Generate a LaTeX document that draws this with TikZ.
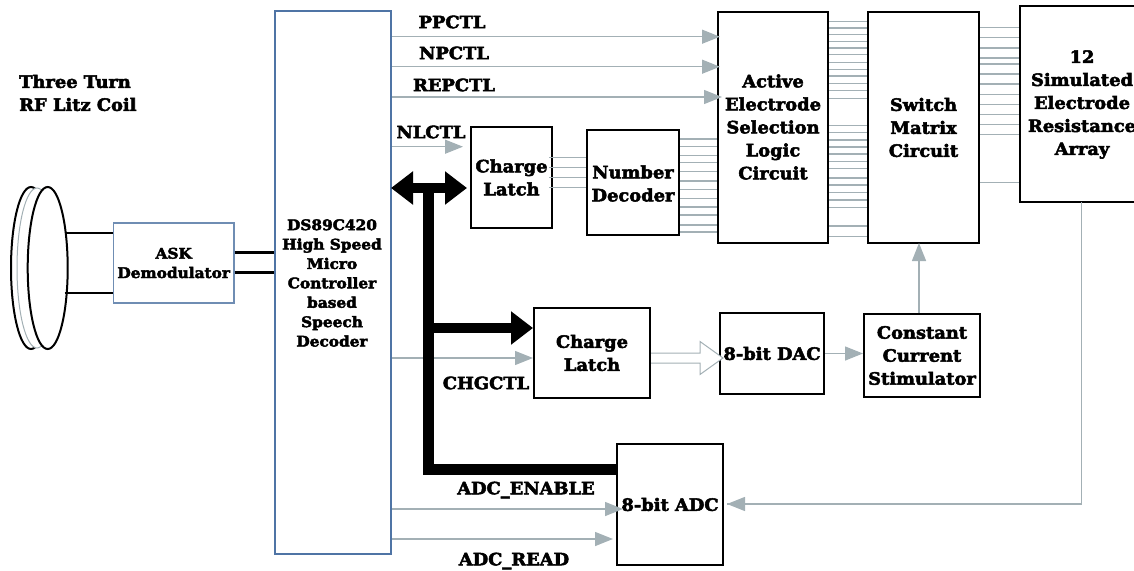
\documentclass[tikz,border=0pt]{standalone}
\usepackage{fontspec}
\setmainfont{DejaVu Serif}[BoldFeatures={FakeBold=3,FakeStretch=1.05}]
\usetikzlibrary{arrows.meta,shapes.geometric,calc}
\definecolor{wiregrey}{HTML}{A3B0B5}
\definecolor{boxblue}{HTML}{4F74A5}
\definecolor{askblue}{HTML}{6F8DB3}
\tikzset{
  x=1pt,y=-1pt,
  lbl/.style={font=\bfseries\fontsize{17}{23}\selectfont,align=center,inner sep=0pt,text=black},
  small/.style={font=\bfseries\fontsize{14.6}{19.4}\selectfont,align=center,inner sep=0pt,text=black},
  blockbox/.style={draw=black,line width=2pt,inner sep=0pt,align=center,font=\bfseries\fontsize{17}{23}\selectfont},
  bluebox/.style={draw=boxblue,line width=2pt,inner sep=0pt},
  wire/.style={draw=wiregrey,line width=1.2pt},
  garrow/.style={draw=wiregrey,line width=1.4pt,-{Triangle[length=18pt,width=14pt,fill=wiregrey]}},
  heavy/.style={draw=black,line width=11pt},
  heavyarrow/.style={draw=black,line width=10pt,-{Triangle[length=22pt,width=32pt,fill=black]}},
  coilline/.style={draw=black,line width=2pt},
  dataline/.style={draw=black,line width=2.6pt},
}
\begin{document}
\begin{tikzpicture}
\useasboundingbox (0,0) rectangle (1134,570);
\clip (0,0) rectangle (1134,570);
% coil
\node[ellipse,draw=black,line width=2pt,fill=white,minimum width=40pt,minimum height=162pt,inner sep=0pt] (coilback) at (31,268) {};
\node[ellipse,draw=wiregrey,line width=1pt,fill=white,minimum width=40pt,minimum height=160pt,inner sep=0pt] (coilmid) at (37,268) {};
\node[ellipse,draw=black,line width=2pt,fill=white,minimum width=40pt,minimum height=162pt,inner sep=0pt] (coil) at (47.7,268) {};
\node[lbl,align=left,anchor=west] (coiltext) at (19,93) {Three Turn\\RF Litz Coil};
% blocks
\node[bluebox,minimum width=116pt,minimum height=543pt] (mcu) at (333,282.5) {};
\node[small] (mcutext) at (332,283) {DS89C420\\High Speed\\Micro\\Controller\\based\\Speech\\Decoder};
\node[draw=askblue,line width=1.2pt,minimum width=120.5pt,minimum height=80pt,inner sep=0pt,align=center,font=\bfseries\fontsize{14.6}{19.4}\selectfont] (ask) at (173.7,263) {ASK\\Demodulator};
\node[blockbox,minimum width=110pt,minimum height=231pt] (act) at (773,127.5) {};
\node[blockbox,draw=none] (acttext) at (773,127) {Active\\Electrode\\Selection\\Logic\\Circuit};
\node[blockbox,minimum width=111pt,minimum height=231pt] (sw) at (923.5,127.5) {Switch\\Matrix\\Circuit};
\node[blockbox,minimum width=130pt,minimum height=196pt] (arr) at (1085,104) {};
\node[blockbox,draw=none] (arrtext) at (1082,104.5) {12\\Simulated\\Electrode\\Resistance\\Array};
\node[blockbox,minimum width=81pt,minimum height=101pt] (lat) at (511.5,177.5) {};
\node[blockbox,draw=none] (lattext) at (511.5,177.5) {Charge\\Latch};
\node[blockbox,minimum width=92pt,minimum height=105pt] (dec) at (633,182.5) {};
\node[blockbox,draw=none] (dectext) at (633,183.5) {Number\\Decoder};
\node[blockbox,minimum width=116pt,minimum height=90pt] (latb) at (592,353) {Charge\\Latch};
\node[blockbox,minimum width=104pt,minimum height=81pt] (dac) at (772,353.5) {8-bit DAC};
\node[blockbox,minimum width=116pt,minimum height=83pt] (stim) at (922,355.5) {Constant\\Current\\Stimulator};
\node[blockbox,minimum width=106pt,minimum height=121pt] (adc) at (670,504.5) {8-bit ADC};
% signal labels
\node[lbl] (ppl) at (452,22) {PPCTL};
\node[lbl] (npl) at (454,53) {NPCTL};
\node[lbl] (repl) at (454,85) {REPCTL};
\node[lbl] (nll) at (431,132) {NLCTL};
\node[lbl] (chgl) at (486,383) {CHGCTL};
\node[lbl] (enl) at (526,490) {ADC\_ENABLE};
\node[lbl] (rdl) at (514,561) {ADC\_READ};
% coil to demodulator
\foreach \y in {232.7,293}{\draw[coilline] ([xshift=-4pt]coil.east |- 0,\y) -- (ask.west |- 0,\y);}
\foreach \y in {252.7,272.7}{\draw[dataline] (ask.east |- 0,\y) -- (mcu.west |- 0,\y);}
% control arrows
\coordinate (ppt) at (720,36.7);
\coordinate (npt) at (720,66.7);
\coordinate (rept) at (722,97);
\coordinate (nlt) at (463,146.7);
\draw[garrow] (mcu.east |- ppt) -- (ppt);
\draw[garrow] (mcu.east |- npt) -- (npt);
\draw[garrow] (mcu.east |- rept) -- (rept);
\draw[garrow] (mcu.east |- nlt) -- (nlt);
\draw[garrow] (mcu.east |- 0,358) -- (latb.west |- 0,358);
\coordinate (ent) at (623,509);
\coordinate (rdt) at (613,539);
\draw[garrow] (mcu.east |- ent) -- (ent);
\draw[garrow] (mcu.east |- rdt) -- (rdt);
% parallel wires
\foreach \y in {157.3,167.3,177.3,187.7}{\draw[wire] ([xshift=-4pt]lat.east |- 0,\y) -- (dec.west |- 0,\y);}
\foreach \y in {139,146.7,155.3,162.7,171.3,181,189.7,198.3,207,215,225,232}{\draw[wire] (dec.east |- 0,\y) -- (act.west |- 0,\y);}
\foreach \y in {21.3,28,34.7,41.3,48,54.7,62.3,69.7,76,83.7,90.7,98.7,125.7,132.3,140,147,154,161.3,168.7,178,185,192.3,200,207.7,226,236.3}{\draw[wire] (act.east |- 0,\y) -- (sw.west |- 0,\y);}
\foreach \y in {27.7,37.7,48,58,64,74,84,94.3,104.3,114.3,124.3,134.3,182.7}{\draw[wire] (sw.east |- 0,\y) -- (arr.west |- 0,\y);}
% bus
\coordinate (bustop) at (428,188);
\coordinate (buscorner) at (428,469);
\draw[heavy] (bustop) -- (buscorner) -- (adc.west |- buscorner);
\draw[heavyarrow,{Triangle[length=22pt,width=32pt,fill=black]}-{Triangle[length=22pt,width=32pt,fill=black]}] (391,188) -- (467,188);
\draw[heavyarrow] (428,328) -- (latb.west |- 0,328);
% hollow arrow
\path (latb.east |- 0,358) coordinate (hs) (723,358) coordinate (ht);
\draw[wiregrey,line width=1pt,fill=white,line join=miter] ($(hs)+(0,-5)$) -- (700,353) -- (700,341.5) -- (ht) -- (700,374.5) -- (700,363) -- ($(hs)+(0,5)$);
% lower signals
\draw[garrow] (dac.east) -- (stim.west |- dac.east);
\coordinate (stimout) at (919,243);
\draw[garrow] (stim.north -| stimout) -- (stimout);
\coordinate (adcin) at (727,504);
\coordinate (arrout) at (1081.7,202);
\draw[wire] (arrout) |- (adcin);
\draw[garrow] (1000,504) -- (adcin);
\end{tikzpicture}
\end{document}
